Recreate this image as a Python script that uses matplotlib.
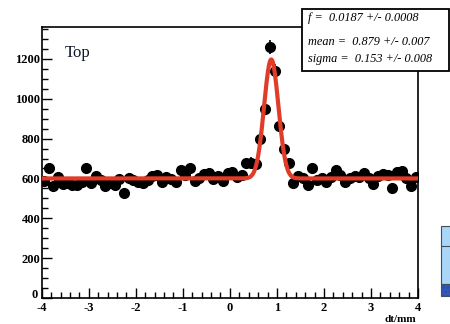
import numpy as np
import matplotlib
matplotlib.use("Agg")
import matplotlib.pyplot as plt
from matplotlib.patches import Rectangle
from matplotlib.ticker import MultipleLocator, FuncFormatter

plt.rcParams["axes.unicode_minus"] = False

# Binned dt distribution (bin width 0.1 mm)
bin_centers = np.round(np.arange(-3.95, 4.0, 0.1), 2)
counts = [
    585, 650, 560, 608, 570, 575, 565, 568, 580, 650,
    575, 610, 590, 560, 575, 568, 595, 528, 600, 590,
    580, 575, 590, 610, 615, 580, 605, 595, 580, 640,
    615, 650, 585, 600, 620, 625, 595, 612, 585, 625,
    632, 605, 615, 675, 680, 672, 798, 948, 1261, 1139,
    864, 748, 676, 578, 612, 600, 568, 652, 590, 600,
    580, 605, 640, 615, 580, 600, 612, 605, 625, 600,
    570, 612, 622, 615, 553, 630, 638, 600, 560, 608,
]

# Fit result: flat background + Gaussian peak
fit_frac, fit_frac_err = 0.0187, 0.0008
fit_mean, fit_mean_err = 0.879, 0.007
fit_sigma, fit_sigma_err = 0.153, 0.008
background = 600
peak_height = 597

fig = plt.figure(figsize=(4.5, 3.24), dpi=100)
ax = fig.add_axes([0.0927, 0.0802, 0.8364, 0.8365])

serif = ["Liberation Serif", "DejaVu Serif"]

y = np.array(counts, dtype=float)
ax.errorbar(bin_centers, y, yerr=np.sqrt(y), fmt="o", color="black",
            markersize=7, elinewidth=1.2, capsize=0, zorder=3)

xf = np.linspace(-4, 4, 800)
yf = background + peak_height * np.exp(-0.5 * ((xf - fit_mean) / fit_sigma) ** 2)
ax.plot(xf, yf, color="#e03c28", lw=3.0, zorder=4)

ax.set_xlim(-4, 4)
ax.set_ylim(0, 1360)
ax.xaxis.set_major_locator(MultipleLocator(1))
ax.xaxis.set_minor_locator(MultipleLocator(0.2))
ax.yaxis.set_major_locator(MultipleLocator(200))
ax.yaxis.set_minor_locator(MultipleLocator(50))
# the zero label of the y axis is placed by hand, slightly raised
ax.yaxis.set_major_formatter(FuncFormatter(lambda v, p: "" if v == 0 else f"{v:g}"))
ax.tick_params(which="both", direction="in", top=False, right=False, width=1.0)
ax.tick_params(which="major", length=7)
ax.tick_params(which="minor", length=4)
ax.tick_params(axis="x", pad=3)
ax.tick_params(axis="y", pad=1)
for lbl in ax.get_xticklabels() + ax.get_yticklabels():
    lbl.set_family(serif)
    lbl.set_fontweight("bold")
    lbl.set_fontsize(9)
ax.annotate("0", xy=(0, 0), xycoords="axes fraction", xytext=(-3, 2),
            textcoords="offset points", ha="right", va="center",
            family=serif, fontweight="bold", fontsize=9)

for sp in ax.spines.values():
    sp.set_linewidth(1.2)

ax.text(0.062, 0.905, "Top", transform=ax.transAxes, family=serif,
        fontsize=12, color="#101828", va="center", ha="left")

fig.text(0.925, 0.0, "dt/mm", family=serif, fontweight="bold",
         fontsize=8, ha="right", va="bottom")

# Fit parameter box
box = Rectangle((301.7 / 450, 1 - 70.7 / 324), 147.5 / 450, 61.4 / 324,
                transform=fig.transFigure, facecolor="white", edgecolor="black",
                lw=1.3, zorder=10)
fig.patches.append(box)
lines = [
    (f"f =  {fit_frac} +/- {fit_frac_err}", 18.3),
    (f"mean =  {fit_mean} +/- {fit_mean_err}", 41.7),
    (f"sigma =  {fit_sigma} +/- {fit_sigma_err}", 59.3),
]
for txt, ypx in lines:
    fig.text(308 / 450, 1 - ypx / 324, txt, family=serif, style="italic",
             fontsize=8.8, ha="left", va="center", zorder=11)

# Neighbouring legend swatch at the right edge
fig.patches.append(Rectangle((441 / 450, 1 - 284 / 324), 10 / 450, 58 / 324,
                             transform=fig.transFigure, facecolor="#a9d5f7",
                             edgecolor="#40505c", lw=0.8))
fig.lines.append(plt.Line2D([441 / 450, 1], [1 - 246 / 324] * 2,
                            transform=fig.transFigure, color="#40505c", lw=0.8))
fig.patches.append(Rectangle((441 / 450, 1 - 296 / 324), 10 / 450, 12 / 324,
                             transform=fig.transFigure, facecolor="#2f55c8",
                             edgecolor="#40505c", lw=0.8, hatch="...."))

fig.savefig("out.png", dpi=100)
